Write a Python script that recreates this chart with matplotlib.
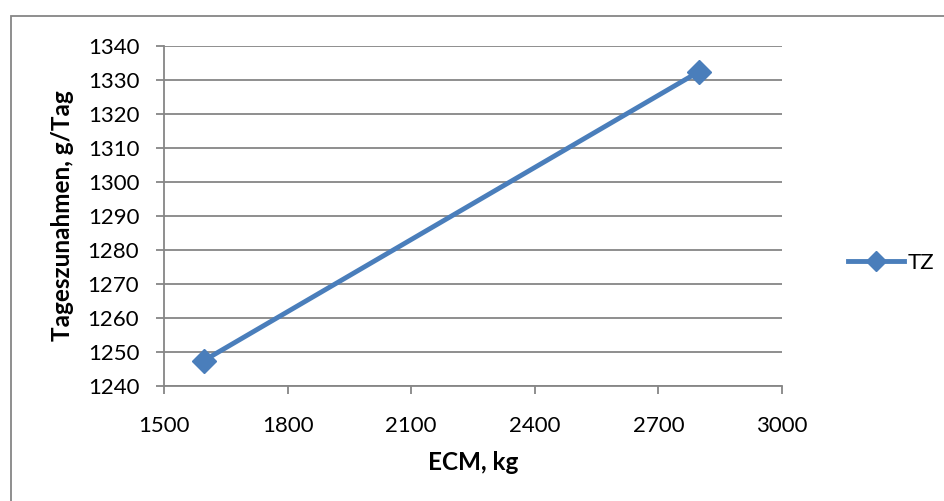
import matplotlib.pyplot as plt
from matplotlib.lines import Line2D
from matplotlib.patches import Rectangle

plt.rcParams['font.family'] = ['Lato', 'DejaVu Sans']

# milk yield (ECM) vs daily weight gain
ecm = [1597, 2799]
tz = [1247.5, 1332.5]
series_name = 'TZ'

x_ticks = [1500, 1800, 2100, 2400, 2700, 3000]
y_ticks = list(range(1240, 1341, 10))

blue = '#4a7ebb'
grey = '#868686'

fig = plt.figure(figsize=(9.44, 5.01), dpi=100)
W, H = 944, 501
ax = fig.add_axes([164 / W, 1 - 386 / H, (782 - 164) / W, (386 - 46) / H])

ax.plot(ecm, tz, color=blue, lw=3.5, marker='D', ms=12.5, mfc=blue, mec=blue,
        solid_capstyle='round', clip_on=False, zorder=3)

ax.set_xlim(1500, 3000)
ax.set_ylim(1240, 1340)
ax.set_xticks(x_ticks)
ax.set_yticks(y_ticks)
ax.tick_params(axis='both', labelsize=16, color=grey, length=5.8, width=1.3,
               direction='out')
ax.tick_params(axis='x', pad=15.5)
ax.tick_params(axis='y', pad=12)
ax.grid(axis='y', color=grey, lw=1.3)
ax.set_axisbelow(True)
for side in ('top', 'right'):
    ax.spines[side].set_visible(False)
for side in ('left', 'bottom'):
    ax.spines[side].set_color(grey)
    ax.spines[side].set_linewidth(1.3)

fig.text(473 / W, 1 - 463 / H, 'ECM, kg', fontsize=17.5, fontweight='bold',
         ha='center', va='center')
fig.text(62 / W, 1 - 216 / H, 'Tageszunahmen, g/Tag', fontsize=17.5,
         fontweight='bold', rotation=90, ha='center', va='center')

handle = Line2D([], [], color=blue, lw=3.5, marker='D', ms=10.5, mfc=blue, mec=blue)
fig.legend([handle], [series_name], loc='center left',
           bbox_to_anchor=(848 / W, 1 - 263 / H), frameon=False, borderpad=0,
           borderaxespad=0, fontsize=16, handlelength=2.5, handletextpad=0.2)

# outer chart border
fig.patches.append(Rectangle((11 / W, -0.05), 1.2, 1 - 16 / H + 0.05,
                             transform=fig.transFigure, fill=False,
                             edgecolor=grey, lw=1.3))

fig.savefig('out.png', dpi=100)
